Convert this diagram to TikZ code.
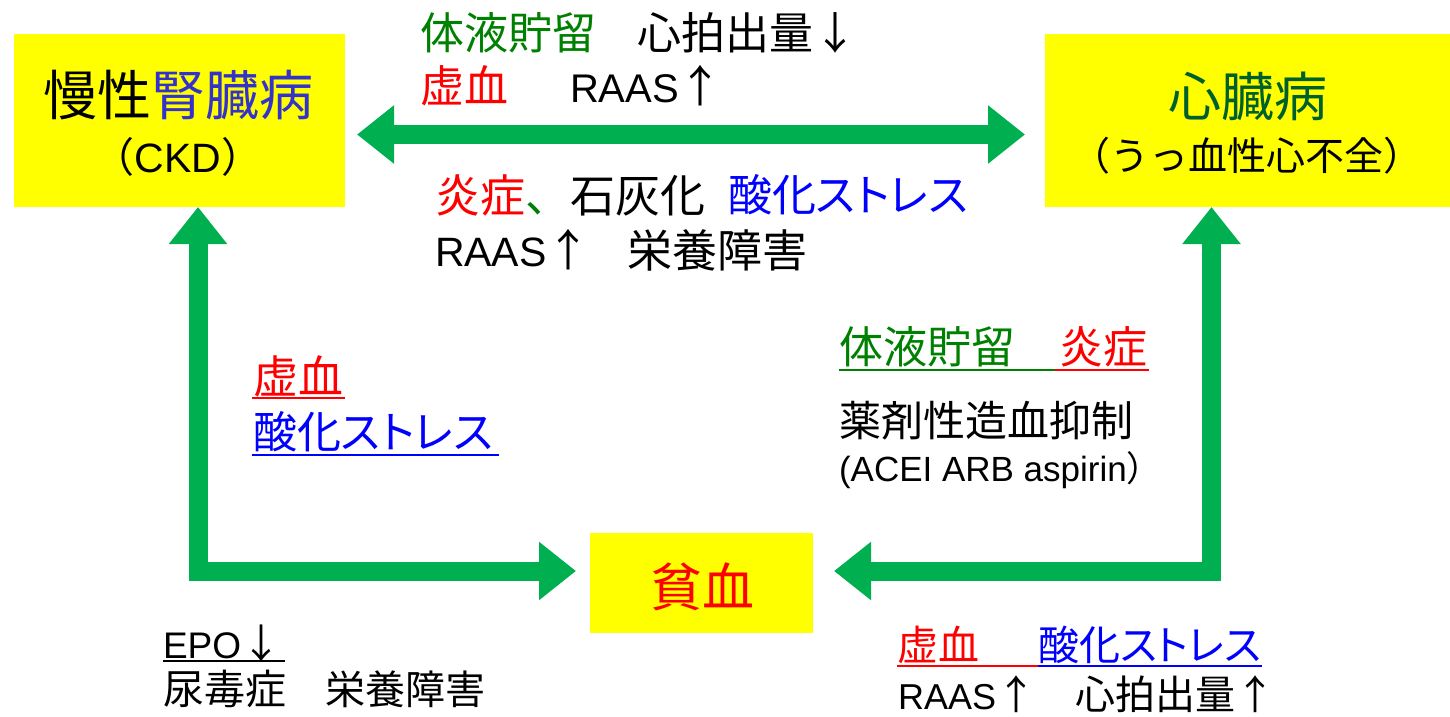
\documentclass[tikz,border=0pt]{standalone}
\usepackage{fontspec}
\setmainfont{Noto Sans CJK JP}
\newfontfamily\pf{Noto Sans CJK JP}[RawFeature=+palt]
\newfontfamily\lat{Liberation Sans}
\usetikzlibrary{arrows.meta,calc}
\definecolor{ylw}{HTML}{FFFF00}
\definecolor{agr}{HTML}{00B050}
\definecolor{tgr}{HTML}{008000}
\definecolor{dgr}{HTML}{00602D}
\definecolor{rd}{HTML}{FF0000}
\definecolor{bl}{HTML}{0000FF}
\definecolor{kb}{HTML}{3333CC}
\newcommand\fs[1]{\fontsize{#1}{#1}\selectfont}
\tikzset{
  box/.style={fill=ylw, draw=none, inner sep=0pt, outer sep=0pt},
  bigarrow/.style={draw=agr, line width=19pt, line join=miter, <->, >={Triangle[width=56pt,length=37pt]}},
  lbl/.style={inner sep=0pt, outer sep=0pt, anchor=west},
  ctr/.style={inner sep=0pt, outer sep=0pt, anchor=center},
  ul/.style={line width=2pt},
}
\begin{document}
\begin{tikzpicture}[x=1pt,y=-1pt]
\useasboundingbox (0,0) rectangle (1450,716);
% boxes
\node[box, minimum width=331pt, minimum height=173pt] (ckd) at (179.5,120.5) {};
\node[box, minimum width=405pt, minimum height=173pt] (heart) at (1247.5,120.5) {};
\node[box, minimum width=223pt, minimum height=100pt] (anemia) at (701.5,583) {};
% arrows
\draw[bigarrow] ($(ckd.east)+(12,14)$) -- ($(heart.west)+(-20,14)$);
\draw[bigarrow] ($(ckd.south)+(18.5,0)$) |- ($(anemia.west)+(-14,-12)$);
\draw[bigarrow] ($(heart.south)+(-36,0)$) |- ($(anemia.east)+(21,-12)$);
% box texts
\node[ctr] (c1) at (178.5,95) {\fs{54}慢性\textcolor{kb}{腎臓病}};
\node[ctr] (c2) at (178,157) {\fs{41}（{\lat CKD}）};
\node[ctr] (h1) at (1248,96) {\fs{53}\textcolor{dgr}{心臓病}};
\node[ctr] (h2) at (1247,156) {\fs{39}（うっ血性心不全）};
\node[ctr] (an) at (702,587) {\fs{52}\textcolor{rd}{貧血}};
% top labels
\node[lbl] (a1) at (420,33) {\fs{44}\textcolor{tgr}{体液貯留}};
\node[lbl] (a2) at (637,33) {\fs{44}心拍出量↓};
\node[lbl] (a3) at (420,86) {\fs{44}\textcolor{rd}{虚血}};
\node[lbl] (a4) at (570,86) {{\lat\fs{40}RAAS}\fs{44}↑};
\node[lbl] (b1) at (435,195) {\fs{45}\textcolor{rd}{炎症}\textcolor{tgr}{、}石灰化};
\node[lbl] (b2) at (728,195) {\fs{44}\textcolor{bl}{酸化{\pf ストレス}}};
\node[lbl] (b3) at (435,250) {{\lat\fs{41}RAAS}\fs{44}↑};
\node[lbl] (b4) at (627,250) {\fs{45}栄養障害};
% left middle
\node[lbl] (l1) at (253,376) {\fs{45}\textcolor{rd}{虚血}};
\node[lbl] (l2) at (253,432) {\fs{44}\textcolor{bl}{酸化{\pf ストレス}}};
\draw[rd, ul] (252,398) -- (345,398);
\draw[bl, ul] (252,455) -- (499,455);
% right middle
\node[lbl] (r1) at (839,347) {\fs{44}\textcolor{tgr}{体液貯留}};
\node[lbl] (r2) at (1059,347) {\fs{44}\textcolor{rd}{炎症}};
\draw[tgr, ul] (839,370) -- (1055,370);
\draw[rd, ul] (1055,370) -- (1149,370);
\node[lbl] (r3) at (839,421) {\fs{42}薬剤性造血抑制};
\node[lbl] (r4) at (839,470) {{\lat\fs{35}(ACEI ARB aspirin}\fs{35}）};
% bottom left
\node[lbl] (e1) at (163,643) {{\lat\fs{37}EPO}\fs{40}↓};
\draw[black, ul] (163,661) -- (285,661);
\node[lbl] (e2) at (163,689) {\fs{41}尿毒症};
\node[lbl] (e3) at (325,689) {\fs{40}栄養障害};
% bottom right
\node[lbl] (f1) at (897,645) {\fs{41}\textcolor{rd}{虚血}};
\node[lbl] (f2) at (1038,645) {\fs{41}\textcolor{bl}{酸化{\pf ストレス}}};
\draw[rd, ul] (897,666) -- (1038,666);
\draw[bl, ul] (1038,666) -- (1262,666);
\node[lbl] (f3) at (898,694) {{\lat\fs{36}RAAS}\fs{40}↑};
\node[lbl] (f4) at (1075,694) {\fs{40}心拍出量↑};
\end{tikzpicture}
\end{document}
